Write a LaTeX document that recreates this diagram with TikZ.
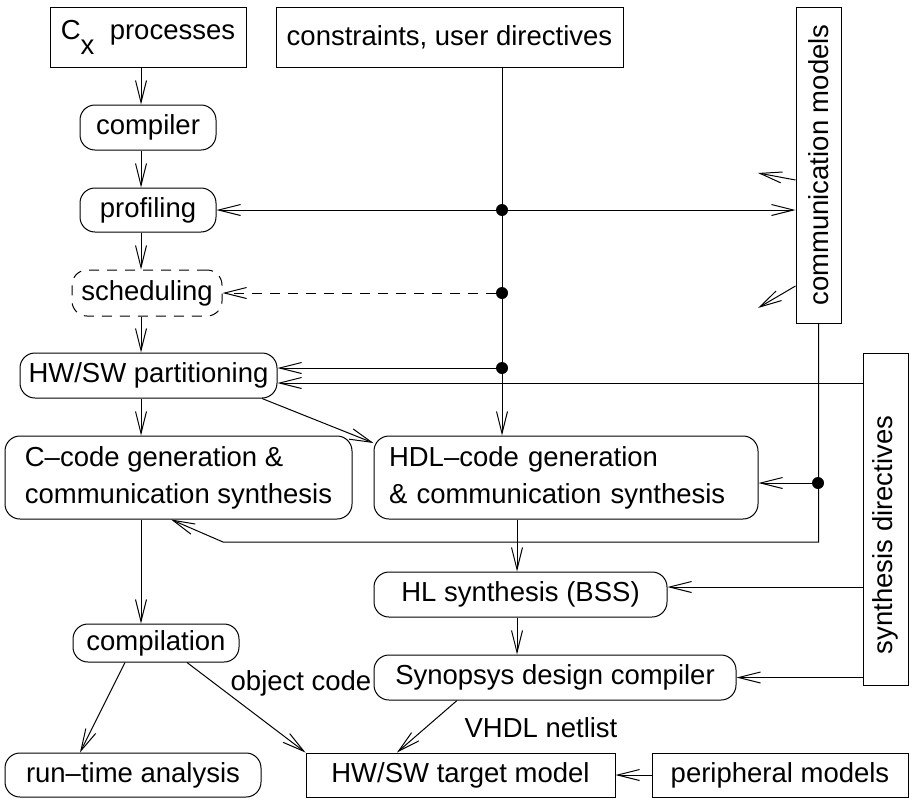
\documentclass[tikz,border=0pt]{standalone}
\usepackage{fontspec}
\setmainfont{Liberation Sans}
\usepackage{graphicx}
\usepackage{tikz}
\usetikzlibrary{arrows.meta,positioning,calc}
\tikzset{
  plainbox/.style={draw, line width=1pt, inner sep=0pt, align=center},
  stagebox/.style={draw, line width=1pt, rounded corners=15pt, inner sep=0pt, align=center},
  arr/.style={-{Straight Barb[length=22pt,width=11pt]}, line width=1pt},
  junction/.style={circle, fill, inner sep=0pt, minimum size=12pt},
}

\begin{document}
\begin{tikzpicture}[x=1pt, y=-1pt, font=\fontsize{27.5}{37}\selectfont]
  \useasboundingbox (0,0) rectangle (910,798);
  \node[plainbox, minimum width=196pt, minimum height=60pt] (cx) at (148,37) {C\raisebox{-0.55em}{x}\ \ processes};
  \node[plainbox, minimum width=347pt, minimum height=60pt] (cons) at (449.5,37) {constraints, user directives};
  \node[plainbox, minimum width=45pt, minimum height=316pt] (comm) at (818.5,165) {\rotatebox{90}{communication models}};
  \node[plainbox, minimum width=45pt, minimum height=332pt] (synth) at (885.5,519) {\rotatebox{90}{synthesis directives\hspace*{32pt}}};
  \node[stagebox, minimum width=136pt, minimum height=45pt] (compiler) at (148,127.5) {compiler};
  \node[stagebox, minimum width=136pt, minimum height=44pt] (profiling) at (148,210) {profiling};
  \node[stagebox, dash pattern=on 10pt off 8pt, minimum width=150pt, minimum height=46pt] (scheduling) at (147,293) {scheduling};
  \node[stagebox, minimum width=257pt, minimum height=45pt] (hwsw) at (148.5,375.5) {HW/SW partitioning};
  \node[stagebox, align=left, minimum width=347pt, minimum height=83pt] (ccode) at (178.5,477.5) {C--code generation \&\\communication synthesis};
  \node[stagebox, align=left, inner xsep=15pt, text width=354pt, minimum height=83pt] (hdl) at (566,477.5) {HDL--code generation\\\& communication synthesis};
  \node[stagebox, minimum width=293pt, minimum height=45pt] (hl) at (520.5,594.5) {HL synthesis (BSS)};
  \node[stagebox, minimum width=362pt, minimum height=45pt] (syn) at (555,677.5) {Synopsys design compiler};
  \node[stagebox, minimum width=166pt, minimum height=38pt] (compilation) at (156,643) {compilation};
  \node[stagebox, minimum width=256pt, minimum height=44pt] (runtime) at (133,775) {run--time analysis};
  \node[plainbox, minimum width=309pt, minimum height=44pt] (target) at (460.5,775) {HW/SW target model};
  \node[plainbox, minimum width=256pt, minimum height=44pt] (periph) at (780,775) {peripheral models};
  \node (objcode) at (301,683) {object code};
  \node (netlist) at (541,728) {VHDL netlist};
  \node[junction] (d1) at (502,210) {};
  \node[junction] (d2) at (502,293) {};
  \node[junction] (d3) at (502,368) {};
  \node[junction] (d4) at (818,483) {};
  \coordinate (lx) at (141,0);
  \coordinate (ux) at (502,0);
  \coordinate (hx) at (517,0);
  \coordinate (c1end) at (758,173);
  \coordinate (c2end) at (758,308);
  \coordinate (bend) at (223,542);
  \draw[arr] (cx.south -| lx) -- (compiler.north -| lx);
  \draw[arr] (compiler.south -| lx) -- (profiling.north -| lx);
  \draw[arr] (profiling.south -| lx) -- (scheduling.north -| lx);
  \draw[arr] (scheduling.south -| lx) -- (hwsw.north -| lx);
  \draw[arr] (hwsw.south -| lx) -- (ccode.north -| lx);
  \draw[arr] (ccode.south -| lx) -- (compilation.north -| lx);
  \draw[arr] (cons.south -| ux) -- (hdl.north -| ux);
  \draw[arr] (d1) -- (profiling.east);
  \draw[arr] (d1) -- (d1 -| comm.west);
  \draw[arr, dash pattern=on 10pt off 8pt] (d2) -- (scheduling.east);
  \draw[arr] (d3) -- (d3 -| hwsw.east);
  \draw[arr] (synth.west |- 0,383) -- (hwsw.east |- 0,383);
  \draw[arr] (comm.west |- 0,180) -- (c1end);
  \draw[arr] (comm.west |- 0,286) -- (c2end);
  \draw[arr] (comm.south) |- (bend) -- (ccode.south -| 171,0);
  \draw[arr] (d4) -- (d4 -| hdl.east);
  \draw[arr] (hwsw.south -| 262,0) -- (hdl.west |- 0,443);
  \draw[arr] (hdl.south -| hx) -- (hl.north -| hx);
  \draw[arr] (hl.south -| hx) -- (syn.north -| hx);
  \draw[arr] (synth.west |- 0,587) -- (hl.east |- 0,587);
  \draw[arr] (synth.west |- syn.east) -- (syn.east);
  \draw[arr] (compilation.south -| 125,0) -- (runtime.north -| 80,0);
  \draw[arr] (compilation.south -| 187,0) -- (target.north west);
  \draw[arr] (syn.south -| 457,0) -- (target.north -| 397,0);
  \draw[arr] (periph.west) -- (target.east);
\end{tikzpicture}
\end{document}
